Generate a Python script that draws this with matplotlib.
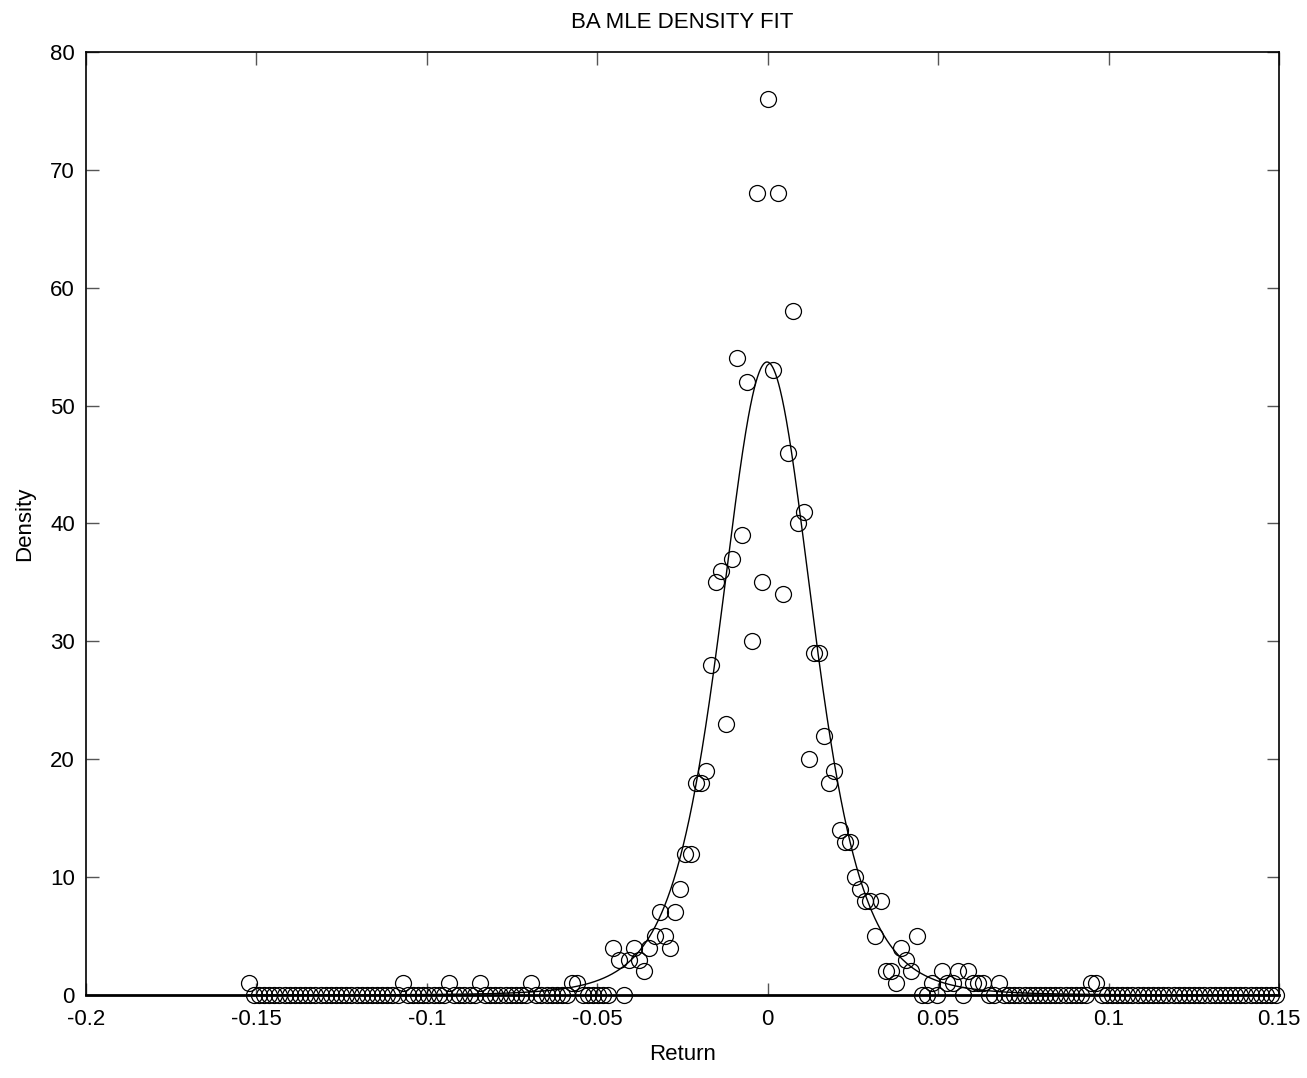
import numpy as np
import matplotlib
matplotlib.use('Agg')
import matplotlib.pyplot as plt

plt.rcParams['font.family'] = ['Liberation Sans', 'DejaVu Sans']

# histogram bins (201 evenly spaced returns)
x_first = -0.1523
x_last = 0.1492
n_bins = 201

# non-zero counts, by bin index
nonzero_bins = [0, 30, 39, 45, 55, 63, 64,
                71, 72, 73, 74, 75, 76, 77, 78, 79, 80,
                81, 82, 83, 84, 85, 86, 87, 88, 89, 90,
                91, 92, 93, 94, 95, 96, 97, 98, 99, 100,
                101, 102, 103, 104, 105, 106, 107, 108, 109, 110,
                111, 112, 113, 114, 115, 116, 117, 118, 119, 120,
                121, 122, 123, 124, 125, 126, 127, 128, 129, 130,
                133, 135, 136, 137, 138, 140, 141, 142, 143, 146,
                164, 165]
nonzero_counts = [1, 1, 1, 1, 1, 1, 1,
                  4, 3, 0, 3, 4, 3, 2, 4, 5, 7,
                  5, 4, 7, 9, 12, 12, 18, 18, 19, 28,
                  35, 36, 23, 37, 54, 39, 52, 30, 68, 35,
                  76, 53, 68, 34, 46, 58, 40, 41, 20, 29,
                  29, 22, 18, 19, 14, 13, 13, 10, 9, 8,
                  8, 5, 8, 2, 2, 1, 4, 3, 2, 5,
                  1, 2, 1, 1, 2, 2, 1, 1, 1, 1,
                  1, 1]

# fitted density (scaled Student-t shape)
fit_peak = 53.7
fit_loc = -0.0002
fit_scale = 0.0140
fit_df = 5.0

returns = np.linspace(x_first, x_last, n_bins)
counts = np.zeros(n_bins)
counts[nonzero_bins] = nonzero_counts

xs = np.linspace(x_first, x_last, 2000)
z = (xs - fit_loc) / fit_scale
fit = fit_peak * (1 + z ** 2 / fit_df) ** (-(fit_df + 1) / 2)

fig = plt.figure(figsize=(13.07, 10.78), dpi=100)
ax = fig.add_axes([0.0658, 0.077, 0.9128, 0.8748])

ax.plot(xs, fit, color='black', linewidth=1.0)
ax.plot(returns, counts, linestyle='none', marker='o', markersize=11.5,
        markerfacecolor='none', markeredgecolor='black', markeredgewidth=0.9,
        clip_on=False)

ax.set_xlim(-0.2, 0.15)
ax.set_ylim(0, 80)
ax.set_xticks([-0.2, -0.15, -0.1, -0.05, 0, 0.05, 0.1, 0.15])
ax.set_xticklabels(['-0.2', '-0.15', '-0.1', '-0.05', '0', '0.05', '0.1', '0.15'])
ax.set_yticks(range(0, 81, 10))

ax.tick_params(direction='in', length=9, width=1, color='#555555',
               top=True, right=True, labelsize=16, pad=8)
ax.tick_params(axis='x', pad=10)
for s in ax.spines.values():
    s.set_linewidth(1.2)
ax.spines['bottom'].set_linewidth(2)

ax.set_title('BA MLE DENSITY FIT', fontsize=16, pad=17)
ax.set_xlabel('Return', fontsize=16, labelpad=10)
ax.set_ylabel('Density', fontsize=16, labelpad=11)

fig.savefig('out.png', dpi=100)
